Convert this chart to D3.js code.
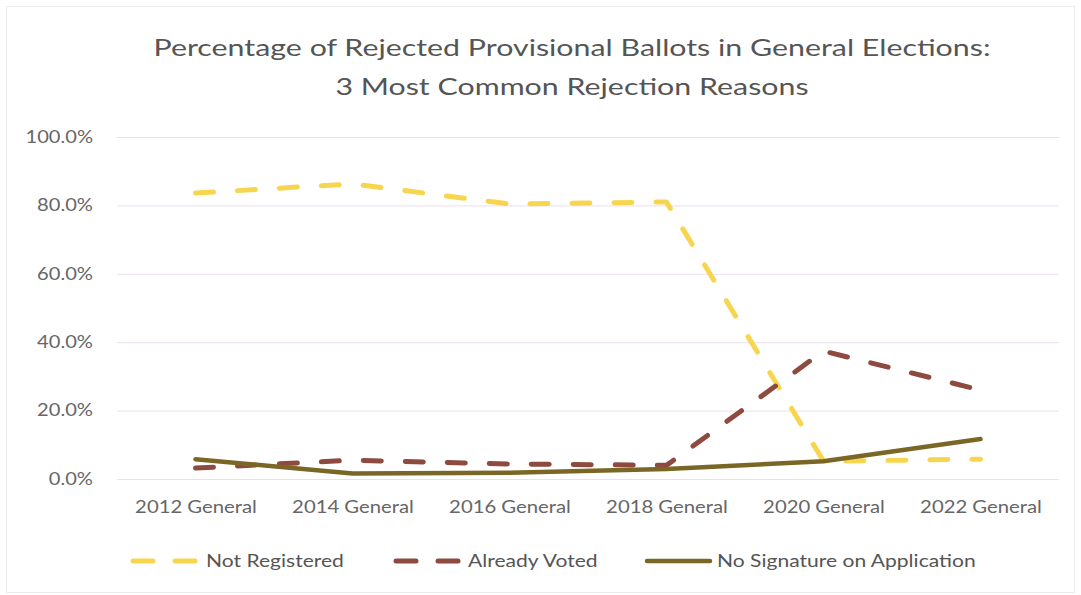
<!DOCTYPE html>
<html>
<head>
<meta charset="utf-8">
<script src="https://cdn.jsdelivr.net/npm/d3@7"></script>
<style>
  html, body { margin: 0; padding: 0; background: #fff; }
  svg { display: block; }
  text { font-family: Lato, "Open Sans", "Liberation Sans", sans-serif; }
</style>
</head>
<body>
<svg id="chart" width="1081" height="595"></svg>
<script>
// Rejected provisional ballots, share by rejection reason
const categories = ["2012 General", "2014 General", "2016 General", "2018 General", "2020 General", "2022 General"];
const notRegistered = [83.6, 86.3, 80.4, 81.0, 5.2, 5.8];
const alreadyVoted = [3.2, 5.5, 4.4, 4.0, 37.4, 26.0];
const noSignature = [5.8, 1.6, 1.8, 2.9, 5.2, 11.7];
const yTicks = [0, 20, 40, 60, 80, 100];
const seriesNames = ["Not Registered", "Already Voted", "No Signature on Application"];

const series = [
  { name: seriesNames[0], values: notRegistered, color: "#F8D54E", dash: "18,24", width: 5 },
  { name: seriesNames[1], values: alreadyVoted, color: "#8E4A3E", dash: "18,24", width: 5 },
  { name: seriesNames[2], values: noSignature, color: "#7A6726", dash: null, width: 4.5 }
];

const svg = d3.select("#chart");
const W = 1081, H = 595;
const margin = { left: 117, right: 22, top: 137, bottom: 116 };
const plotW = W - margin.left - margin.right;
const plotH = H - margin.top - margin.bottom;

// Widen a text element horizontally about its own anchor point
function widen(sel, sx) {
  sel.each(function () {
    const t = d3.select(this);
    const ax = +t.attr("x") || 0;
    t.attr("transform", `translate(${ax},0) scale(${sx},1) translate(${-ax},0)`);
  });
}

// faint frame around the chart area
svg.append("rect")
  .attr("x", 6.5).attr("y", 6.5).attr("width", W - 13).attr("height", H - 9)
  .attr("fill", "none").attr("stroke", "#ececec").attr("stroke-width", 1);

// Title
const title = svg.append("text")
  .attr("x", 572).attr("text-anchor", "middle")
  .attr("fill", "#555").attr("font-size", 24);
title.append("tspan").attr("x", 572).attr("y", 56).text("Percentage of Rejected Provisional Ballots in General Elections:");
title.append("tspan").attr("x", 572).attr("y", 95).text("3 Most Common Rejection Reasons");
widen(title, 1.265);

const g = svg.append("g").attr("transform", `translate(${margin.left},${margin.top})`);

const x = d3.scalePoint().domain(categories).range([0, plotW]).padding(0.5);
const y = d3.scaleLinear().domain([0, 100]).range([plotH, 0]);

// Gridlines and y axis
const yAxis = d3.axisLeft(y).tickValues(yTicks)
  .tickSize(-plotW).tickPadding(24)
  .tickFormat(d => d3.format(".1f")(d) + "%");
const ya = g.append("g").call(yAxis);
ya.select(".domain").remove();
ya.selectAll(".tick line").attr("stroke", "#eadff0").attr("stroke-width", 1);
ya.selectAll(".tick text").attr("fill", "#666").attr("font-size", 16.5)
  .attr("font-family", "Lato, 'Open Sans', sans-serif")
  .call(widen, 1.22);

// X axis labels
const xAxis = d3.axisBottom(x).tickSize(0).tickPadding(22);
const xa = g.append("g").attr("transform", `translate(0,${plotH})`).call(xAxis);
xa.select(".domain").remove();
xa.selectAll(".tick text").attr("fill", "#666").attr("font-size", 17.5)
  .attr("font-family", "Lato, 'Open Sans', sans-serif")
  .call(widen, 1.16);

// Lines
const line = d3.line().x((d, i) => x(categories[i])).y(d => y(d));
series.forEach(s => {
  g.append("path")
    .datum(s.values)
    .attr("d", line)
    .attr("fill", "none")
    .attr("stroke", s.color)
    .attr("stroke-width", s.width)
    .attr("stroke-linecap", "round")
    .attr("stroke-linejoin", "round")
    .attr("stroke-dasharray", s.dash);
});

// Legend
const legendItems = [
  { s: series[0], x: 133, tx: 206 },
  { s: series[1], x: 396, tx: 468 },
  { s: series[2], x: 647, tx: 717 }
];
const ly = 561;
legendItems.forEach(item => {
  const lg = svg.append("g");
  if (item.s.dash) {
    [[0, 20], [42, 62]].forEach(([a, b]) => {
      lg.append("line")
        .attr("x1", item.x + a).attr("x2", item.x + b)
        .attr("y1", ly).attr("y2", ly)
        .attr("stroke", item.s.color).attr("stroke-width", item.s.width)
        .attr("stroke-linecap", "round");
    });
  } else {
    lg.append("line")
      .attr("x1", item.x).attr("x2", item.x + 63)
      .attr("y1", ly).attr("y2", ly)
      .attr("stroke", item.s.color).attr("stroke-width", item.s.width)
      .attr("stroke-linecap", "round");
  }
  lg.append("text")
    .attr("x", item.tx)
    .attr("y", ly + 6)
    .attr("fill", "#555").attr("font-size", 18)
    .text(item.s.name)
    .call(widen, 1.17);
});
</script>
</body>
</html>
